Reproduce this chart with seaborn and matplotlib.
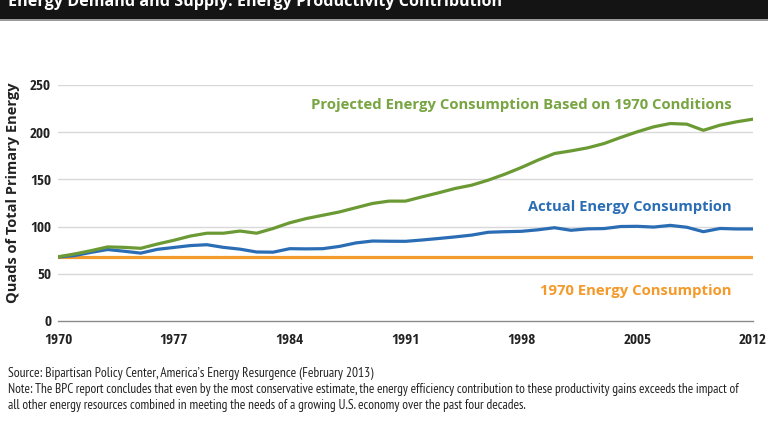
import numpy as np
import pandas as pd
import matplotlib
matplotlib.use("Agg")
import matplotlib.pyplot as plt
import seaborn as sns
from matplotlib.ticker import MultipleLocator

YEARS = list(range(1970, 2013))

PROJECTED = [68.0, 71.0, 74.5, 78.5, 78.0, 77.0, 81.5, 85.5, 90.0, 93.0,
             93.0, 95.3, 93.0, 98.0, 104.0, 108.5, 112.0, 115.5, 120.0, 124.5,
             127.0, 127.0, 131.5, 135.8, 140.4, 143.9, 149.2, 155.5, 162.6, 170.4,
             177.4, 180.2, 183.4, 188.0, 194.4, 200.4, 205.7, 209.2, 208.5, 202.0,
             207.4, 211.0, 213.8]

ACTUAL = [67.8, 69.3, 72.7, 75.7, 73.9, 71.9, 75.9, 77.9, 79.9, 80.8,
          78.0, 76.1, 73.1, 72.9, 76.6, 76.4, 76.6, 79.0, 82.7, 84.7,
          84.5, 84.4, 85.8, 87.4, 89.1, 91.0, 94.0, 94.6, 95.0, 96.6,
          98.8, 96.1, 97.6, 97.9, 100.1, 100.3, 99.5, 101.3, 99.3, 94.6,
          98.0, 97.5, 97.5]

BASELINE = [67.8] * len(YEARS)

Y_TICKS = [0, 50, 100, 150, 200, 250]
X_TICKS = [1970, 1977, 1984, 1991, 1998, 2005, 2012]

TITLE = "Energy Demand and Supply: Energy Productivity Contribution"
Y_LABEL = "Quads of Total Primary Energy"
LBL_PROJ = "Projected Energy Consumption Based on 1970 Conditions"
LBL_ACT = "Actual Energy Consumption"
LBL_BASE = "1970 Energy Consumption"
SOURCE = "Source: Bipartisan Policy Center, America\u2019s Energy Resurgence (February 2013)"
NOTE_1 = ("Note: The BPC report concludes that even by the most conservative estimate, the energy efficiency "
          "contribution to these productivity gains exceeds the impact of")
NOTE_2 = "all other energy resources combined in meeting the needs of a growing U.S. economy over the past four decades."

GREEN = "#6b9a35"
GREEN_TXT = "#78a542"
BLUE = "#2a6db5"
ORANGE = "#f39a2a"
INK = "#222222"

df = pd.DataFrame({"Year": YEARS, "Projected": PROJECTED,
                   "Actual": ACTUAL, "Baseline": BASELINE})

sns.set_style("white")
COND_BOLD = ["Open Sans Condensed", "Roboto Condensed", "DejaVu Sans"]
COND = ["PT Sans Narrow", "Roboto Condensed", "DejaVu Sans"]
SEMI = ["Open Sans", "DejaVu Sans"]
plt.rcParams["font.family"] = COND_BOLD

fig = plt.figure(figsize=(7.68, 4.32), dpi=100)
ax = fig.add_axes([58 / 768, 1 - 321 / 432, (753 - 58) / 768, (321 - 85) / 432])

sns.lineplot(data=df, x="Year", y="Baseline", ax=ax, color=ORANGE, lw=2.3)
sns.lineplot(data=df, x="Year", y="Actual", ax=ax, color=BLUE, lw=2.3)
sns.lineplot(data=df, x="Year", y="Projected", ax=ax, color=GREEN, lw=2.3)

ax.set_xlim(1970, 2012)
ax.set_ylim(0, 250)
ax.set_yticks(Y_TICKS)
ax.set_xticks(X_TICKS)
ax.xaxis.set_minor_locator(MultipleLocator(1))
for y in Y_TICKS[1:]:
    ax.axhline(y, color="#d8d8d8", lw=1, zorder=0)

for s in ["top", "right", "left"]:
    ax.spines[s].set_visible(False)
ax.spines["bottom"].set_color("#8a8a8a")
ax.spines["bottom"].set_linewidth(1)
ax.tick_params(axis="x", which="major", direction="inout", length=7, color="#8a8a8a",
               labelsize=11, pad=5)
ax.tick_params(axis="x", which="minor", direction="inout", length=3, color="#8a8a8a")
ax.tick_params(axis="y", length=0, labelsize=11, pad=5)
for lab in ax.get_xticklabels() + ax.get_yticklabels():
    lab.set_fontweight("bold")
    lab.set_color(INK)

ax.set_xlabel("")
ax.set_ylabel("")
ylab = fig.text(13 / 768, 1 - 193 / 432, Y_LABEL, rotation=90, fontsize=10, fontweight="bold",
                family=SEMI, color=INK, ha="center", va="center")

lab_font = dict(family=SEMI, fontweight="bold", fontsize=10.5, ha="right", va="center")
t_proj = ax.text(2010.7, 228.8, LBL_PROJ, color=GREEN_TXT, **lab_font)
t_act = ax.text(2010.7, 120.8, LBL_ACT, color=BLUE, **lab_font)
t_base = ax.text(2010.7, 31.8, LBL_BASE, color=ORANGE, **lab_font)

# black header band with clipped title
fig.patches.append(plt.Rectangle((0, 1 - 19 / 432), 1, 19 / 432, transform=fig.transFigure,
                                 facecolor="#141414", edgecolor="none"))
fig.patches.append(plt.Rectangle((0, 1 - 20.5 / 432), 1, 1.5 / 432, transform=fig.transFigure,
                                 facecolor="#9a9a9a", edgecolor="none"))
t_title = fig.text(8 / 768, 1 - 6 / 432, TITLE, color="white", fontsize=12, fontweight="bold",
                   family=SEMI, va="baseline", ha="left")

t_src = fig.text(8 / 768, 1 - 373 / 432, SOURCE, fontsize=8.5, family=COND, color=INK, va="center")
t_n1 = fig.text(8 / 768, 1 - 390 / 432, NOTE_1, fontsize=8.5, family=COND, color=INK, va="center")
t_n2 = fig.text(8 / 768, 1 - 406 / 432, NOTE_2, fontsize=8.5, family=COND, color=INK, va="center")

# scale fonts so each text spans the same width as in the reference
renderer = fig.canvas.get_renderer()
def fit(t, px, vertical=False):
    bb = t.get_window_extent(renderer)
    cur = bb.height if vertical else bb.width
    t.set_fontsize(t.get_fontsize() * px / cur)

fit(ylab, 220, vertical=True)
fit(t_proj, 423)
fit(t_act, 204)
fit(t_base, 193)
fit(t_title, 494)
fit(t_src, 363)
fit(t_n1, 734)
fit(t_n2, 516)

fig.savefig("out.png", dpi=100)
